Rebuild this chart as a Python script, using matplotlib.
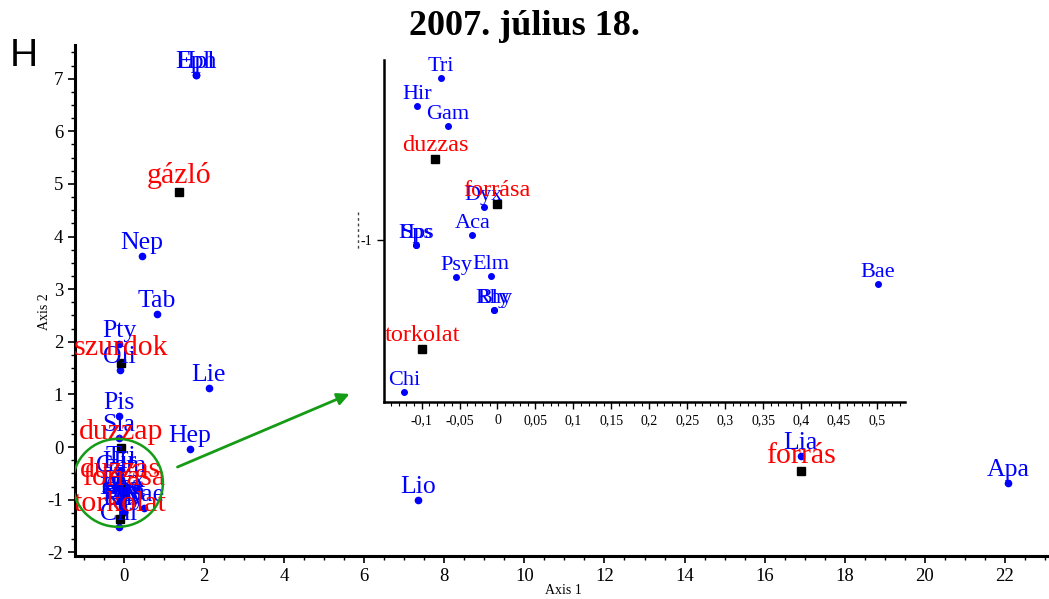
import matplotlib
matplotlib.use('Agg')
import matplotlib.pyplot as plt
from matplotlib.patches import Ellipse
from matplotlib.lines import Line2D
from matplotlib.ticker import MultipleLocator, FuncFormatter, FixedLocator

plt.rcParams['font.family'] = ['Liberation Serif', 'DejaVu Serif']
plt.rcParams['axes.unicode_minus'] = False

# fajok (kék pontok)
species = ['Eph', 'Hpl', 'Nep', 'Tab', 'Pty', 'Oli', 'Lie', 'Pis', 'Sia', 'Hep',
           'Lio', 'Lia', 'Apa', 'Tri', 'Hir', 'Gam', 'Dyx', 'Aca', 'Hps', 'Sps',
           'Psy', 'Elm', 'Rhy', 'Bly', 'Bae', 'Chi']
species_x = [1.80, 1.80, 0.45, 0.83, -0.12, -0.10, 2.12, -0.12, -0.12, 1.65,
             7.35, 16.90, 22.08, -0.074, -0.106, -0.065, -0.018, -0.033, -0.107, -0.107,
             -0.054, -0.009, -0.005, -0.005, 0.501, -0.123]
species_y = [7.07, 7.07, 3.63, 2.53, 1.96, 1.46, 1.12, 0.59, 0.17, -0.04,
             -1.01, -0.17, -0.68, -0.441, -0.538, -0.607, -0.886, -0.983, -1.017, -1.017,
             -1.128, -1.124, -1.241, -1.241, -1.152, -1.524]

# mintavételi helyek (fekete négyzetek)
sites = ['gázló', 'szurdok', 'duzzap', 'duzzas', 'forrása', 'torkolat', 'forrás']
sites_x = [1.375, -0.075, -0.07, -0.082, -0.001, -0.099, 16.92]
sites_y = [4.85, 1.59, -0.01, -0.721, -0.876, -1.376, -0.456]

W, H = 1049, 599
fig = plt.figure(figsize=(W / 100, H / 100), dpi=100)

# fő diagram
ax = fig.add_axes([75 / W, 1 - 556 / H, 1 - 75 / W, (556 - 45) / H])
ax.set_xlim(-1.22, 23.1)
ax.set_ylim(-2.07, 7.64)
for s in ['top', 'right']:
    ax.spines[s].set_visible(False)
for s in ['left', 'bottom']:
    ax.spines[s].set_linewidth(2.2)
ax.xaxis.set_major_locator(MultipleLocator(2))
ax.xaxis.set_minor_locator(MultipleLocator(0.5))
ax.yaxis.set_major_locator(MultipleLocator(1))
ax.yaxis.set_minor_locator(MultipleLocator(0.25))
ax.tick_params(which='major', direction='out', length=5, width=1.2, labelsize=13.5)
ax.tick_params(which='minor', direction='out', length=3, width=1)

ax.plot(species_x, species_y, 'o', color='#0000ff', ms=4.5, zorder=3)
ax.plot(sites_x, sites_y, 's', color='black', ms=6, zorder=3)
for name, x, y in zip(species, species_x, species_y):
    ax.annotate(name, (x, y), xytext=(0, 5), textcoords='offset points',
                ha='center', va='baseline', color='#0000ff', fontsize=18.5, zorder=4)
for name, x, y in zip(sites, sites_x, sites_y):
    ax.annotate(name, (x, y), xytext=(0, 6), textcoords='offset points',
                ha='center', va='baseline', color='#ff0000', fontsize=21.5, zorder=4)

ax.add_patch(Ellipse((-0.15, -0.68), 2.25, 1.67, fill=False, edgecolor='#169b16', lw=1.8, zorder=5))
ax.annotate('', xy=(5.7, 1.03), xytext=(1.275, -0.40),
            arrowprops=dict(arrowstyle='-|>', color='#169b16', lw=2, mutation_scale=18))

# kinagyított részlet
ins = fig.add_axes([384 / W, 1 - 402 / H, (905 - 384) / W, (402 - 60) / H])
ins.set_facecolor('white')
xlo, xhi, ylo, yhi = -0.1495, 0.537, -1.559, -0.379
ins.set_xlim(xlo, xhi)
ins.set_ylim(ylo, yhi)
for s in ['top', 'right']:
    ins.spines[s].set_visible(False)
for s in ['left', 'bottom']:
    ins.spines[s].set_linewidth(1.8)
ins.xaxis.set_major_locator(MultipleLocator(0.05))
ins.xaxis.set_minor_locator(MultipleLocator(0.01))
ins.xaxis.set_major_formatter(FuncFormatter(
    lambda v, p: '0' if abs(v) < 1e-9 else ('%g' % round(v, 3)).replace('.', ',')))
ins.yaxis.set_major_locator(FixedLocator([-1]))
ins.yaxis.set_major_formatter(FuncFormatter(lambda v, p: '-1'))
ins.tick_params(which='major', direction='out', length=5, width=1, labelsize=10)
ins.tick_params(which='minor', direction='out', length=3, width=0.8)

in_view = [(n, x, y) for n, x, y in zip(species, species_x, species_y)
           if xlo < x < xhi and ylo < y < yhi]
ins.plot([p[1] for p in in_view], [p[2] for p in in_view], 'o', color='#0000ff', ms=4)
for name, x, y in in_view:
    ins.annotate(name, (x, y), xytext=(0, 5), textcoords='offset points',
                 ha='center', va='baseline', color='#0000ff', fontsize=16)
site_view = [(n, x, y) for n, x, y in zip(sites, sites_x, sites_y)
             if xlo < x < xhi and ylo < y < yhi]
ins.plot([p[1] for p in site_view], [p[2] for p in site_view], 's', color='black', ms=5.5)
for name, x, y in site_view:
    ins.annotate(name, (x, y), xytext=(0, 6), textcoords='offset points',
                 ha='center', va='baseline', color='#ff0000', fontsize=17.5)

fig.add_artist(Line2D([358 / W, 358 / W], [1 - 212 / H, 1 - 250 / H],
                      color='#444444', lw=1, ls=(0, (2, 2))))

fig.text(0.5, 1 - 35 / H, '2007. július 18.', ha='center', va='baseline',
         fontsize=26, fontweight='bold')
fig.text(10 / W, 1 - 66 / H, 'H', fontsize=28, family='Liberation Sans', va='baseline')
fig.text(563 / W, 1 - 590 / H, 'Axis 1', ha='center', va='center', fontsize=10)
fig.text(45 / W, 1 - 312 / H, 'Axis 2', ha='center', va='center', fontsize=10, rotation=90)

fig.savefig('out.png', dpi=100)
